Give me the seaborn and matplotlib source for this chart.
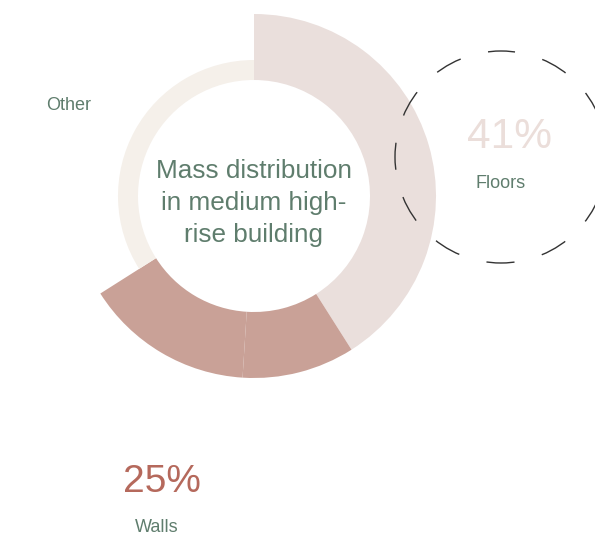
import matplotlib
matplotlib.use("Agg")
import matplotlib.pyplot as plt
from matplotlib.patches import Circle
import seaborn as sns

# Mass shares of a medium high-rise building (walls are drawn as two parts)
segment_labels = ["Floors", "Walls", "Walls", "Other"]
segment_shares = [41, 10, 15, 34]
segment_colors = ["#EADFDC", "#C9A197", "#C9A197", "#F5F0EA"]

title_text = "Mass distribution\nin medium high-\nrise building"
floors_label = "Floors"
walls_label = "Walls"
other_label = "Other"

floors_pct = sum(v for l, v in zip(segment_labels, segment_shares) if l == "Floors")
walls_pct = sum(v for l, v in zip(segment_labels, segment_shares) if l == "Walls")

sns.set_theme(style="white")
plt.rcParams["font.family"] = ["Liberation Sans", "DejaVu Sans"]

W, H = 595, 535
fig = plt.figure(figsize=(W / 100, H / 100), dpi=100)
ax = fig.add_axes([0, 0, 1, 1])

cx, cy = 254, H - 196
inner_r = 116
outer_big = 182
outer_other = 136

# Floors and walls: outer ring at the full radius
big_colors = [c if l != "Other" else "none" for l, c in zip(segment_labels, segment_colors)]
ax.pie(segment_shares, radius=outer_big, center=(cx, cy), startangle=90,
       counterclock=False, colors=big_colors,
       wedgeprops=dict(width=outer_big - inner_r, linewidth=0))

# "Other": thinner ring
small_colors = [c if l == "Other" else "none" for l, c in zip(segment_labels, segment_colors)]
ax.pie(segment_shares, radius=outer_other, center=(cx, cy), startangle=90,
       counterclock=False, colors=small_colors,
       wedgeprops=dict(width=outer_other - inner_r, linewidth=0))

text_green = "#5F7D6D"

ax.text(cx, H - 203, title_text, ha="center", va="center", fontsize=18.8,
        color=text_green, linespacing=1.42)

# Dashed callout circle for floors
dash = 19.5
gap = 20.4
ring = Circle((501, H - 157), 106, fill=False, edgecolor="#333333", linewidth=1.0,
              linestyle=(dash / 2, (dash, gap)))
ax.add_patch(ring)

ax.text(510, H - 137, f"{floors_pct}%", ha="center", va="center", fontsize=30.5,
        color="#EBDEDA")
ax.text(501, H - 183, floors_label, ha="center", va="center", fontsize=13,
        color=text_green)

ax.text(162, H - 482, f"{walls_pct}%", ha="center", va="center", fontsize=28,
        color="#B5695C")
ax.text(157, H - 527, walls_label, ha="center", va="center", fontsize=13,
        color=text_green)

ax.text(68.5, H - 105, other_label, ha="center", va="center", fontsize=13,
        color=text_green)

ax.set_xlim(0, W)
ax.set_ylim(0, H)
ax.set_aspect("equal")
ax.axis("off")

fig.savefig("out.png", dpi=100, facecolor="white")
